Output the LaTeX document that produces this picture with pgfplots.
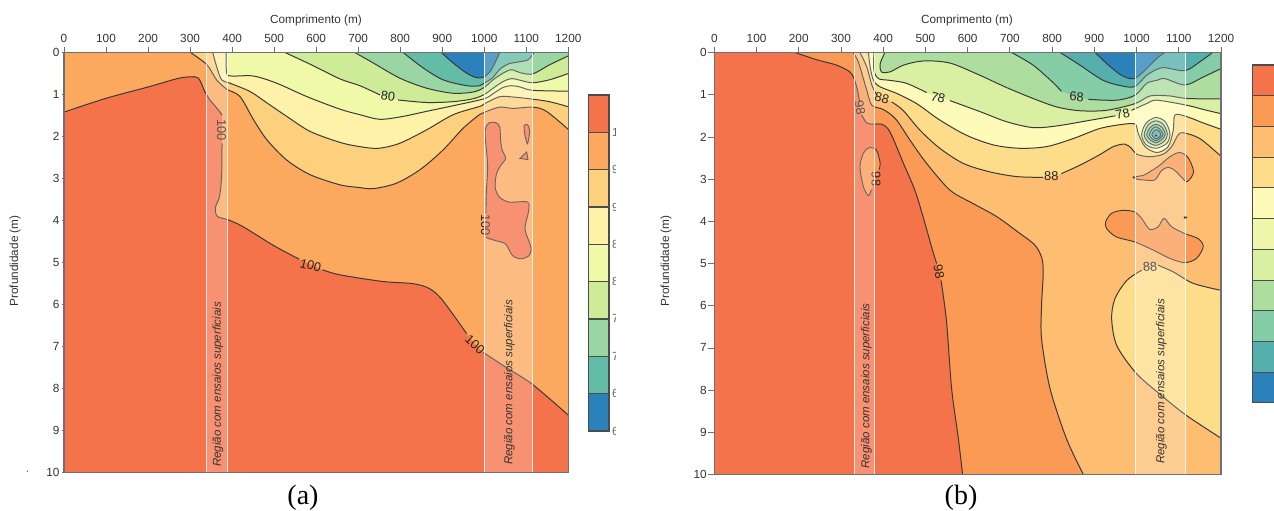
\documentclass[border=0pt]{standalone}
\usepackage{pgfplots}
\usepackage{pgfplotstable}
\usepackage{fontspec}
\setmainfont{Liberation Sans}
\newfontfamily\capfont{Liberation Serif}
\pgfplotsset{compat=1.18}
\definecolor{linec}{HTML}{3A3A3A}
\definecolor{framec}{HTML}{707070}
\definecolor{txt}{HTML}{333333}
\definecolor{ared}{HTML}{F5734A}
\definecolor{aor}{HTML}{FCA85E}
\definecolor{alo}{HTML}{FDD07D}
\definecolor{ayl}{HTML}{FEF2A9}
\definecolor{ayg}{HTML}{F0F9A7}
\definecolor{agr}{HTML}{CEEB98}
\definecolor{amg}{HTML}{9AD6A3}
\definecolor{ate}{HTML}{62BCA6}
\definecolor{abl}{HTML}{2B82BA}
\definecolor{bor}{HTML}{FB9A55}
\definecolor{blo}{HTML}{FDBE72}
\definecolor{bam}{HTML}{FDDD8A}
\definecolor{byl}{HTML}{FEFBB9}
\definecolor{byg}{HTML}{EEF7AC}
\definecolor{bgr}{HTML}{D9F0A3}
\definecolor{bmg}{HTML}{AEDDA0}
\definecolor{bsg}{HTML}{84CDA6}
\definecolor{bte}{HTML}{55AFAD}

% ---------- panel (a) contours: length (m), depth (m)
\pgfplotstableread[row sep=\\]{x y\\ 0 1.42\\ 100 1.09\\ 200 .82\\ 270 .62\\ 300 .58\\ 320 .61\\ 335 .93\\ 345 1.1\\ 370 1.4\\ 376 1.5\\ 376 2.16\\ 375 2.95\\ 370 3.43\\ 360 3.7\\ 365 3.9\\ 390 3.98\\ 425 4.14\\ 500 4.6\\ 560 4.92\\ 615 5.17\\ 656 5.29\\ 759 5.45\\ 830 5.5\\ 870 5.62\\ 901 5.9\\ 958 6.69\\ 998 7.14\\ 1053 7.5\\ 1115 7.9\\ 1200 8.63\\}\Aa
\pgfplotstableread[row sep=\\]{x y\\ 301 0\\ 340 .29\\ 363 .65\\ 387 .87\\ 419 1.05\\ 451 1.6\\ 483 2.08\\ 530 2.56\\ 586 2.91\\ 657 3.15\\ 700 3.21\\ 736 3.24\\ 791 3.11\\ 847 2.79\\ 902 2.32\\ 950 1.8\\ 990 1.47\\ 1006 1.4\\ 1037 1.3\\ 1069 1.33\\ 1115 1.3\\ 1148 1.4\\ 1200 1.83\\}\Ab
\pgfplotstableread[row sep=\\]{x y\\ 354 0\\ 363 .33\\ 375 .65\\ 395 .73\\ 443 .93\\ 483 1.2\\ 530 1.52\\ 586 1.88\\ 657 2.14\\ 704 2.24\\ 748 2.28\\ 799 2.16\\ 863 1.84\\ 926 1.48\\ 990 1.28\\ 1000 1.22\\ 1037 1.05\\ 1069 1.06\\ 1115 1.11\\ 1155 1.17\\ 1200 1.29\\}\Ac
\pgfplotstableread[row sep=\\]{x y\\ 386 0\\ 387 .49\\ 399 .56\\ 451 .56\\ 506 .73\\ 578 1.05\\ 657 1.35\\ 704 1.48\\ 752 1.59\\ 807 1.52\\ 863 1.4\\ 934 1.25\\ 1000 1.1\\ 1021 .98\\ 1045 .83\\ 1065 .79\\ 1085 .82\\ 1115 .9\\ 1200 .92\\}\Ad
\pgfplotstableread[row sep=\\]{x y\\ 526 0\\ 590 .3\\ 657 .63\\ 704 .79\\ 752 1.01\\ 795 1.13\\ 863 1.19\\ 926 1.17\\ 974 1.1\\ 1000 1\\ 1021 .85\\ 1045 .69\\ 1065 .62\\ 1085 .66\\ 1115 .72\\ 1155 .65\\ 1200 .5\\}\Ae
\pgfplotstableread[row sep=\\]{x y\\ 692 0\\ 736 .25\\ 799 .61\\ 863 .85\\ 926 .97\\ 974 .94\\ 1000 .83\\ 1021 .65\\ 1045 .49\\ 1065 .41\\ 1085 .48\\ 1115 .51\\ 1156 .29\\ 1200 .08\\}\Af
\pgfplotstableread[row sep=\\]{x y\\ 807 0\\ 855 .37\\ 902 .65\\ 958 .79\\ 990 .79\\ 1000 .73\\ 1020 .6\\ 1037 .4\\ 1058 .27\\ 1085 .22\\ 1105 .17\\ 1115 .05\\ 1118 0\\}\Ag
\pgfplotstableread[row sep=\\]{x y\\ 898 0\\ 926 .25\\ 958 .49\\ 982 .6\\ 1000 .58\\ 1017 .41\\ 1037 0\\}\Ah
\pgfplotstableread[row sep=\\]{x y\\ 1004 3.82\\ 1005 3.33\\ 1008 2.69\\ 1002 1.98\\ 1004 1.78\\ 1012 1.67\\ 1028 1.67\\ 1037 1.78\\ 1039 2.1\\ 1043 2.33\\ 1051 2.52\\ 1039 2.69\\ 1029 2.89\\ 1026 3.21\\ 1036 3.44\\ 1059 3.56\\ 1103 3.56\\ 1105 3.8\\ 1097 4.2\\ 1111 4.63\\ 1107 4.83\\ 1087 4.91\\ 1067 4.83\\ 1051 4.56\\ 1028 4.48\\ 1004 4.4\\}\Ablob
\pgfplotstableread[row sep=\\]{x y\\ 1095 1.74\\ 1103 1.72\\ 1108 1.86\\ 1103 2.17\\ 1097 1.98\\}\Asm
\pgfplotstableread[row sep=\\]{x y\\ 1085 2.52\\ 1101 2.37\\ 1104 2.55\\}\Atri

% ---------- panel (b) contours
\pgfplotstableread[row sep=\\]{x y\\ 191 0\\ 242 .17\\ 290 .3\\ 321 .46\\ 331 .62\\ 339 .89\\ 344 1.17\\ 349 1.48\\ 361 1.67\\ 378 1.7\\ 397 1.7\\ 416 1.88\\ 448 2.63\\ 479 3.38\\ 519 4.76\\ 527 5\\ 537 5.4\\ 550 6.38\\ 562 7.96\\ 578 9.15\\ 588 10\\}\Ba
\pgfplotstableread[row sep=\\]{x y\\ 329 0\\ 341 .22\\ 353 .62\\ 361 .89\\ 373 1.25\\ 400 1.35\\ 430 1.58\\ 465 2.1\\ 503 2.63\\ 558 3.26\\ 613 3.58\\ 669 3.89\\ 724 4.29\\ 759 4.56\\ 775 4.85\\ 779 5.2\\ 775 6\\ 775 6.78\\ 795 7.96\\ 834 9.15\\ 874 10\\}\Bb
\pgfplotstableread[row sep=\\]{x y\\ 345 0\\ 361 .34\\ 373 .77\\ 385 1.01\\ 420 1.17\\ 447 1.37\\ 487 1.84\\ 534 2.27\\ 590 2.63\\ 653 2.83\\ 716 2.94\\ 779 2.96\\ 822 2.87\\ 866 2.67\\ 913 2.42\\ 945 2.23\\ 972 2.17\\ 988 2.27\\ 1000 2.41\\ 1031 2.47\\ 1063 2.41\\ 1083 2.23\\ 1098 1.96\\ 1110 1.9\\ 1150 2.04\\ 1200 2.46\\}\Bc
\pgfplotstableread[row sep=\\]{x y\\ 365 0\\ 369 .34\\ 377 .66\\ 392 .81\\ 432 .97\\ 479 1.21\\ 534 1.6\\ 597 1.96\\ 661 2.19\\ 724 2.27\\ 787 2.23\\ 850 2.04\\ 913 1.8\\ 969 1.7\\ 997 1.7\\ 1004 1.92\\ 1020 2.23\\ 1048 2.37\\ 1075 2.23\\ 1087 1.84\\ 1091 1.48\\ 1119 1.52\\ 1158 1.67\\ 1200 1.82\\}\Bd
\pgfplotstableread[row sep=\\]{x y\\ 378 0\\ 378 .42\\ 389 .62\\ 416 .66\\ 455 .73\\ 503 .95\\ 558 1.14\\ 629 1.4\\ 692 1.64\\ 755 1.78\\ 811 1.74\\ 882 1.62\\ 950 1.5\\ 988 1.37\\ 1024 1.21\\ 1048 1.13\\ 1119 1.25\\ 1158 1.35\\ 1200 1.45\\}\Be
\pgfplotstableread[row sep=\\]{x y\\ 404 0\\ 393 .26\\ 396 .46\\ 416 .46\\ 448 .3\\ 495 .2\\ 558 .25\\ 629 .54\\ 692 .83\\ 755 1.09\\ 811 1.29\\ 866 1.38\\ 929 1.37\\ 997 1.21\\ 1032 1.03\\ 1079 1.03\\ 1119 1.09\\ 1200 1.1\\}\Bf
\pgfplotstableread[row sep=\\]{x y\\ 704 0\\ 755 .3\\ 803 .72\\ 822 .92\\ 886 1.11\\ 953 1.13\\ 997 1.01\\ 1024 .73\\ 1048 .66\\ 1067 .62\\ 1115 .77\\ 1158 .58\\ 1200 .38\\}\Bg
\pgfplotstableread[row sep=\\]{x y\\ 819 0\\ 866 .3\\ 921 .66\\ 969 .8\\ 997 .8\\ 1024 .54\\ 1048 .4\\ 1067 .36\\ 1115 .43\\ 1150 .22\\ 1180 0\\}\Bh
\pgfplotstableread[row sep=\\]{x y\\ 902 0\\ 929 .26\\ 961 .52\\ 985 .62\\ 1000 .59\\ 1020 .42\\ 1048 .14\\ 1067 0\\}\Bi
\pgfplotstableread[row sep=\\]{x y\\ 1197 5.63\\ 1134 5.47\\ 1087 5.2\\ 1051 5.04\\ 1012 5.16\\ 977 5.4\\ 949 5.83\\ 941 6.3\\ 953 6.94\\ 1000 7.61\\ 1063 8.16\\ 1118 8.6\\ 1200 9.14\\}\Bj
\pgfplotstableread[row sep=\\]{x y\\ 372 3.25\\ 365 3.39\\ 353 3.18\\ 345 2.71\\ 353 2.39\\ 365 2.26\\ 378 2.27\\ 386 2.35\\ 393 2.63\\ 390 2.78\\}\Bpa
\pgfplotstableread[row sep=\\]{x y\\ 996 2.95\\ 1016 2.91\\ 1031 2.83\\ 1055 2.67\\ 1079 2.47\\ 1102 2.37\\ 1122 2.49\\ 1135 2.83\\ 1120 3.06\\ 1106 2.95\\ 1091 2.8\\ 1075 2.72\\ 1059 2.8\\ 1043 3.02\\ 1016 3.02\\ 1000 3\\}\Bpb
\pgfplotstableread[row sep=\\]{x y\\ 927 4.01\\ 941 3.81\\ 968 3.74\\ 996 3.78\\ 1012 3.93\\ 1031 4.19\\ 1051 4.13\\ 1065 3.93\\ 1083 4.13\\ 1114 4.29\\ 1146 4.41\\ 1158 4.6\\ 1142 4.88\\ 1114 4.98\\ 1079 4.88\\ 1039 4.68\\ 996 4.49\\ 952 4.37\\ 929 4.17\\}\Bpc
\pgfplotstableread[row sep=\\]{x y\\ 1012 1.95\\ 1022 1.68\\ 1045 1.54\\ 1068 1.64\\ 1079 1.92\\ 1072 2.15\\ 1046 2.27\\ 1022 2.18\\}\Ra
\pgfplotstableread[row sep=\\]{x y\\ 1018 1.95\\ 1027 1.72\\ 1045 1.62\\ 1063 1.7\\ 1073 1.93\\ 1066 2.1\\ 1046 2.2\\ 1027 2.12\\}\Rb
\pgfplotstableread[row sep=\\]{x y\\ 1024 1.95\\ 1032 1.78\\ 1046 1.7\\ 1060 1.77\\ 1068 1.94\\ 1060 2.06\\ 1046 2.14\\ 1032 2.07\\}\Rc
\pgfplotstableread[row sep=\\]{x y\\ 1030 1.95\\ 1036 1.83\\ 1046 1.76\\ 1056 1.83\\ 1063 1.94\\ 1056 2.03\\ 1046 2.09\\ 1036 2.04\\}\Rd
\pgfplotstableread[row sep=\\]{x y\\ 1036 1.95\\ 1040 1.87\\ 1047 1.83\\ 1054 1.87\\ 1058 1.95\\ 1053 2.01\\ 1046 2.05\\ 1040 2.01\\}\Re

\newcommand\tf{\fontsize{11.8}{13}\selectfont}
\newcommand\rf{\fontsize{11.5}{13}\selectfont}
\newcommand\lf{\fontsize{12.8}{14}\selectfont}
\newcommand\reg[2]{\addplot[draw=none,fill=#1,smooth,forget plot] table {#2} -- (axis cs:1300,-1) -- (axis cs:-100,-1) -- cycle;}
\newcommand\regb[2]{\addplot[draw=none,fill=#1,smooth,forget plot] table {#2} -- (axis cs:1300,11) -- (axis cs:1300,-1) -- (axis cs:-100,-1) -- cycle;}
\newcommand\patch[2]{\addplot[draw=linec,line width=.9pt,fill=#1,smooth cycle,forget plot] table {#2};}
\newcommand\gappatch[2]{\addplot[draw=none,fill=#1,smooth cycle,forget plot] table {#2};\addplot[draw=linec,line width=.9pt,smooth,forget plot] table {#2};}
\newcommand\seg[3]{\addplot[draw=linec,line width=1pt,smooth,forget plot,skip coords between index={0}{#2},skip coords between index={#3}{9999}] table {#1};}
\newcommand\whole[1]{\addplot[draw=linec,line width=1pt,smooth,forget plot] table {#1};}
\newcommand\lab[4]{\node[font=\lf,text=black!85,rotate=#4,inner sep=0pt] at (axis cs:#1,#2) {#3};}
\newcommand\band[2]{\addplot[fill=white,fill opacity=.22,draw=white,draw opacity=.85,line width=.8pt,forget plot] coordinates {(#1,0) (#1,10) (#2,10) (#2,0)} -- cycle;}
\newcommand\reglabel[2]{\node[font=\rf\itshape,text=black!80,rotate=90,inner sep=0pt] at (axis cs:#1,#2) {Região com ensaios superficiais};}
\newcommand\cbar[4]{\addplot[fill=#1,draw=#4,line width=1.1pt,forget plot] coordinates {(0,#2) (#3,#2) (#3,#2+1) (0,#2+1)} -- cycle;}

\pgfplotsset{main/.style={
  scale only axis,
  anchor=south west,
  xmin=0,xmax=1200,ymin=0,ymax=10,y dir=reverse,
  axis on top,
  axis line style={draw=framec,line width=1.1pt},
  tick style={draw=framec,line width=.8pt},
  tick align=outside,
  xtick={0,100,...,1200},
  xticklabel pos=top,xtick pos=top,
  ytick pos=left,
  ytick={0,1,...,10},
  ticklabel style={font=\tf,text=txt},
  /pgf/number format/assume math mode=true,
  /pgf/number format/1000 sep={},
}}

\begin{document}
\begin{tikzpicture}[x=1pt,y=1pt]
\path[use as bounding box] (0,0) rectangle (1274,511);

% ================= PANEL A
\begin{axis}[main,at={(64pt,38.3pt)},width=504.3pt,height=420.2pt,major tick length=6pt,ytick=\empty]
\addplot[draw=none,fill=ared,forget plot] coordinates {(0,0) (1200,0) (1200,10) (0,10)} -- cycle;
\reg{aor}{\Aa}
\gappatch{ared}{\Ablob}
\patch{ared}{\Asm}
\addplot[draw=linec,line width=.9pt,fill=ared,forget plot] table {\Atri} -- cycle;
\reg{alo}{\Ab}
\reg{ayl}{\Ac}
\reg{ayg}{\Ad}
\reg{agr}{\Ae}
\reg{amg}{\Af}
\reg{ate}{\Ag}
\reg{abl}{\Ah}
\seg{\Aa}{0}{10}\seg{\Aa}{10}{19}\seg{\Aa}{19}{26}\seg{\Aa}{26}{99}
\whole{\Ab}\whole{\Ac}\whole{\Ad}
\seg{\Ae}{0}{5}\seg{\Ae}{5}{99}
\whole{\Af}\whole{\Ag}\whole{\Ah}
\lab{375}{1.84}{100}{-90}
\lab{587}{5.07}{100}{-15}
\lab{978}{6.95}{100}{-42}
\lab{771}{1.05}{80}{-8}
\lab{1003}{4.1}{100}{-90}
\band{340}{388}
\band{1000}{1115}
\reglabel{366}{7.9}
\reglabel{1060}{7.85}
\end{axis}
\begin{axis}[main,at={(64pt,38.3pt)},width=504.3pt,height=420.2pt,major tick length=2pt,xtick=\empty,axis on top=false,axis line style={draw=none},yticklabel style={xshift=1pt}]
\end{axis}

% colour bar (a)
\begin{axis}[scale only axis,anchor=south west,at={(588pt,68.8pt)},width=27pt,height=354.7pt,xmin=0,xmax=27,ymin=-.3,ymax=9.2,hide axis]
\cbar{abl}{0}{21}{black!70}
\cbar{ate}{1}{21}{black!70}
\cbar{amg}{2}{21}{black!70}
\cbar{agr}{3}{21}{black!70}
\cbar{ayg}{4}{21}{black!70}
\cbar{ayl}{5}{21}{black!70}
\cbar{alo}{6}{21}{black!70}
\cbar{aor}{7}{21}{black!70}
\cbar{ared}{8}{21}{black!70}
\node[font=\tf,text=black!60,anchor=west,inner sep=0pt] at (axis cs:24,0) {60};
\node[font=\tf,text=black!60,anchor=west,inner sep=0pt] at (axis cs:24,1) {65};
\node[font=\tf,text=black!60,anchor=west,inner sep=0pt] at (axis cs:24,2) {70};
\node[font=\tf,text=black!60,anchor=west,inner sep=0pt] at (axis cs:24,3) {75};
\node[font=\tf,text=black!60,anchor=west,inner sep=0pt] at (axis cs:24,4) {80};
\node[font=\tf,text=black!60,anchor=west,inner sep=0pt] at (axis cs:24,5) {85};
\node[font=\tf,text=black!60,anchor=west,inner sep=0pt] at (axis cs:24,6) {90};
\node[font=\tf,text=black!60,anchor=west,inner sep=0pt] at (axis cs:24,7) {95};
\node[font=\tf,text=black!60,anchor=west,inner sep=0pt] at (axis cs:24,8) {100};
\end{axis}

% ================= PANEL B
\begin{axis}[main,at={(714.3pt,36.5pt)},width=506.7pt,height=422pt,major tick length=6pt,yticklabel style={xshift=2pt}]
\addplot[draw=none,fill=ared,forget plot] coordinates {(0,0) (1200,0) (1200,10) (0,10)} -- cycle;
\regb{bor}{\Ba}
\gappatch{bor}{\Bpa}
\regb{blo}{\Bb}
\patch{bor}{\Bpb}
\patch{bor}{\Bpc}
\addplot[draw=none,fill=bam,smooth,forget plot] table {\Bj} -- (axis cs:1300,9.5) -- (axis cs:1300,5.5) -- cycle;
\reg{bam}{\Bc}
\reg{byl}{\Bd}
\patch{bgr}{\Ra}
\patch{bmg}{\Rb}
\patch{bsg}{\Rc}
\patch{bsg}{\Rd}
\patch{bte}{\Re}
\reg{bgr}{\Be}
\reg{bmg}{\Bf}
\reg{bsg}{\Bg}
\reg{bte}{\Bh}
\reg{abl}{\Bi}
\seg{\Ba}{0}{7}\seg{\Ba}{7}{16}\seg{\Ba}{16}{99}
\whole{\Bb}
\seg{\Bc}{0}{4}\seg{\Bc}{4}{12}\seg{\Bc}{12}{99}
\whole{\Bd}
\seg{\Be}{0}{6}\seg{\Be}{6}{13}\seg{\Be}{13}{99}
\whole{\Bf}
\seg{\Bg}{0}{4}\seg{\Bg}{4}{99}
\whole{\Bh}\whole{\Bi}
\seg{\Bj}{0}{4}\seg{\Bj}{4}{99}
\addplot[only marks,mark=*,mark size=.8pt,draw=linec,fill=linec,forget plot] coordinates {(993,2.96) (1117,3.91) (1114,3.91) (1046,1.97)};
\lab{345}{1.3}{98}{-80}
\lab{532}{5.2}{98}{-80}
\lab{383}{3.0}{98}{-90}
\lab{397}{1.09}{88}{-15}
\lab{798}{2.92}{88}{0}
\lab{1032}{5.08}{88}{5}
\lab{530}{1.07}{78}{-15}
\lab{967}{1.46}{78}{12}
\lab{858}{1.05}{68}{-3}
\band{331}{379}
\band{997}{1116}
\reglabel{360}{7.9}
\reglabel{1059}{7.79}
\end{axis}

% colour bar (b)
\begin{axis}[scale only axis,anchor=south west,at={(1252pt,108pt)},width=22pt,height=338pt,xmin=0,xmax=22,ymin=0,ymax=11,hide axis]
\cbar{abl}{0}{40}{black!70}
\cbar{bte}{1}{40}{black!70}
\cbar{bsg}{2}{40}{black!70}
\cbar{bmg}{3}{40}{black!70}
\cbar{bgr}{4}{40}{black!70}
\cbar{byg}{5}{40}{black!70}
\cbar{byl}{6}{40}{black!70}
\cbar{bam}{7}{40}{black!70}
\cbar{blo}{8}{40}{black!70}
\cbar{bor}{9}{40}{black!70}
\cbar{ared}{10}{40}{black!70}
\end{axis}

% axis titles and captions
\node[font=\tf,text=txt] at (316,491) {Comprimento (m)};
\node[font=\tf,text=txt] at (967,491) {Comprimento (m)};
\node[font=\tf,text=txt,rotate=90] at (15,250) {Profundidade (m)};
\node[font=\tf,text=txt,rotate=90] at (666,250) {Profundidade (m)};
\node[font=\capfont\fontsize{28}{30}\selectfont] at (303,13) {(a)};
\node[font=\capfont\fontsize{28}{30}\selectfont] at (961,13) {(b)};
\node[font=\tf,text=black!60,inner sep=0pt] at (27.5,39.5) {.};
\end{tikzpicture}
\end{document}
